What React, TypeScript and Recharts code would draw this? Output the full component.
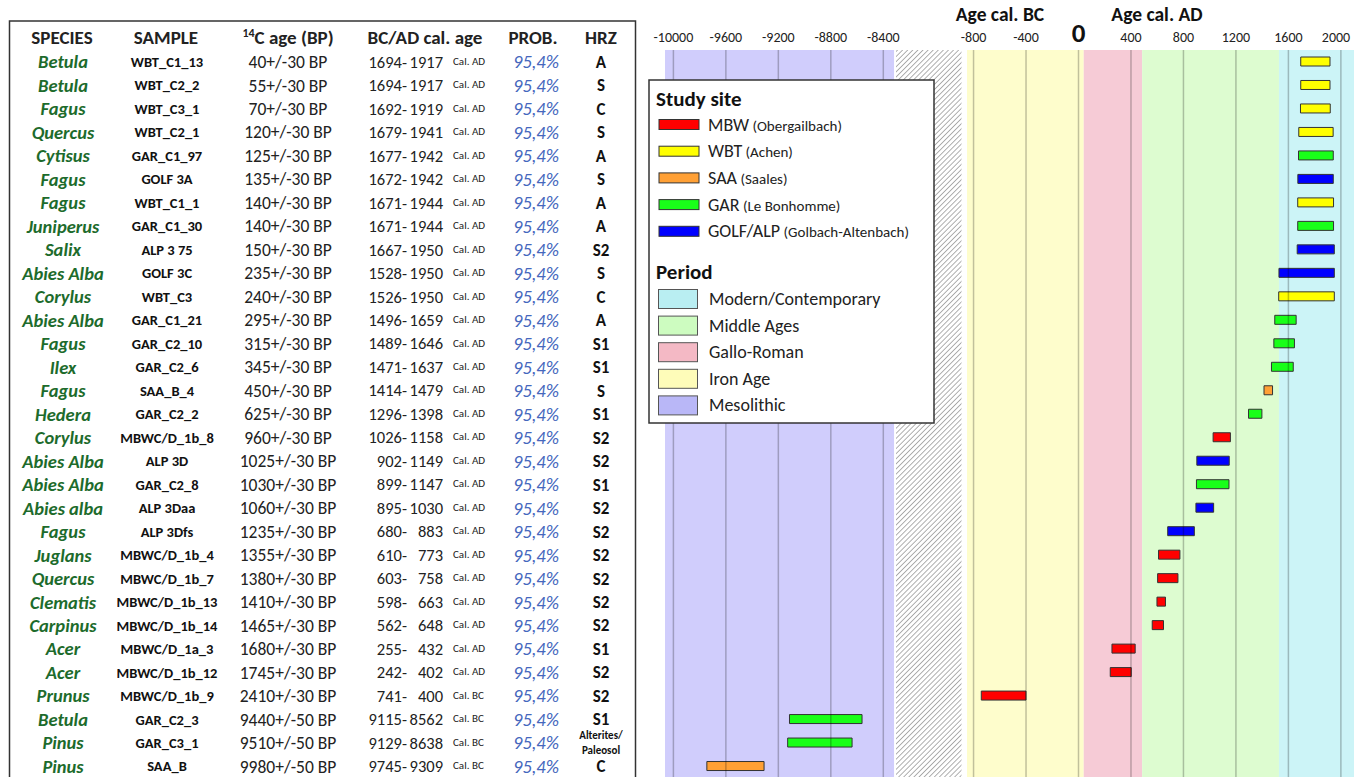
import React from 'react';
import { ComposedChart, Bar, Cell, XAxis, YAxis, ReferenceArea, ReferenceLine } from 'recharts';

const FONT = 'Carlito, Lato, "Open Sans", sans-serif';

// table rows, top to bottom
const species = [
  'Betula', 'Betula', 'Fagus', 'Quercus', 'Cytisus', 'Fagus', 'Fagus', 'Juniperus', 'Salix', 'Abies Alba',
  'Corylus', 'Abies Alba', 'Fagus', 'Ilex', 'Fagus', 'Hedera', 'Corylus', 'Abies Alba', 'Abies Alba', 'Abies alba',
  'Fagus', 'Juglans', 'Quercus', 'Clematis', 'Carpinus', 'Acer', 'Acer', 'Prunus', 'Betula', 'Pinus', 'Pinus',
];
const samples = [
  'WBT_C1_13', 'WBT_C2_2', 'WBT_C3_1', 'WBT_C2_1', 'GAR_C1_97', 'GOLF 3A', 'WBT_C1_1', 'GAR_C1_30', 'ALP 3 75', 'GOLF 3C',
  'WBT_C3', 'GAR_C1_21', 'GAR_C2_10', 'GAR_C2_6', 'SAA_B_4', 'GAR_C2_2', 'MBWC/D_1b_8', 'ALP 3D', 'GAR_C2_8', 'ALP 3Daa',
  'ALP 3Dfs', 'MBWC/D_1b_4', 'MBWC/D_1b_7', 'MBWC/D_1b_13', 'MBWC/D_1b_14', 'MBWC/D_1a_3', 'MBWC/D_1b_12', 'MBWC/D_1b_9',
  'GAR_C2_3', 'GAR_C3_1', 'SAA_B',
];
const c14Ages = [
  '40+/-30 BP', '55+/-30 BP', '70+/-30 BP', '120+/-30 BP', '125+/-30 BP', '135+/-30 BP', '140+/-30 BP', '140+/-30 BP',
  '150+/-30 BP', '235+/-30 BP', '240+/-30 BP', '295+/-30 BP', '315+/-30 BP', '345+/-30 BP', '450+/-30 BP', '625+/-30 BP',
  '960+/-30 BP', '1025+/-30 BP', '1030+/-30 BP', '1060+/-30 BP', '1235+/-30 BP', '1355+/-30 BP', '1380+/-30 BP',
  '1410+/-30 BP', '1465+/-30 BP', '1680+/-30 BP', '1745+/-30 BP', '2410+/-30 BP', '9440+/-50 BP', '9510+/-50 BP',
  '9980+/-50 BP',
];
const calFrom = [
  1694, 1694, 1692, 1679, 1677, 1672, 1671, 1671, 1667, 1528, 1526, 1496, 1489, 1471, 1414, 1296,
  1026, 902, 899, 895, 680, 610, 603, 598, 562, 255, 242, 741, 9115, 9129, 9745,
];
const calTo = [
  1917, 1917, 1919, 1941, 1942, 1942, 1944, 1944, 1950, 1950, 1950, 1659, 1646, 1637, 1479, 1398,
  1158, 1149, 1147, 1030, 883, 773, 758, 663, 648, 432, 402, 400, 8562, 8638, 9309,
];
const calEra = [
  'AD', 'AD', 'AD', 'AD', 'AD', 'AD', 'AD', 'AD', 'AD', 'AD', 'AD', 'AD', 'AD', 'AD', 'AD', 'AD',
  'AD', 'AD', 'AD', 'AD', 'AD', 'AD', 'AD', 'AD', 'AD', 'AD', 'AD', 'BC', 'BC', 'BC', 'BC',
];
const PROB = '95,4%';
const horizons = [
  'A', 'S', 'C', 'S', 'A', 'S', 'A', 'A', 'S2', 'S', 'C', 'A', 'S1', 'S1', 'S', 'S1',
  'S2', 'S2', 'S1', 'S2', 'S2', 'S2', 'S2', 'S2', 'S2', 'S1', 'S2', 'S2', 'S1', 'Alterites/ Paleosol', 'C',
];
const sites = [
  'WBT', 'WBT', 'WBT', 'WBT', 'GAR', 'GOLF', 'WBT', 'GAR', 'ALP', 'GOLF', 'WBT', 'GAR', 'GAR', 'GAR', 'SAA', 'GAR',
  'MBW', 'ALP', 'GAR', 'ALP', 'ALP', 'MBW', 'MBW', 'MBW', 'MBW', 'MBW', 'MBW', 'MBW', 'GAR', 'GAR', 'SAA',
];

// legend
const siteCodes = ['MBW', 'WBT', 'SAA', 'GAR', 'GOLF/ALP'];
const siteNames = ['(Obergailbach)', '(Achen)', '(Saales)', '(Le Bonhomme)', '(Golbach-Altenbach)'];

// periods (years, negative = BC)
const periodNames = ['Mesolithic', 'Iron Age', 'Gallo-Roman', 'Middle Ages', 'Modern/Contemporary'];
const periodFrom = [-10064, -850, 40, 485, 1528];
const periodTo = [-8318, 40, 485, 1528, 2100];

const tickYears = [-10000, -9600, -9200, -8800, -8400, -800, -400, 0, 400, 800, 1200, 1600, 2000];

const siteColor: Record<string, string> = {
  MBW: '#ff0000', WBT: '#ffff00', SAA: '#ffa035', GAR: '#19ff19', GOLF: '#0000ff', ALP: '#0000ff', 'GOLF/ALP': '#0000ff',
};
const bandColor: Record<string, string> = {
  Mesolithic: '#d0cdfc', 'Iron Age': '#fefdcc', 'Gallo-Roman': '#f6cbd6', 'Middle Ages': '#ddfcd0', 'Modern/Contemporary': '#ccf4f7',
};
const swatchColor: Record<string, string> = {
  Mesolithic: '#b9b7f7', 'Iron Age': '#fefcb9', 'Gallo-Roman': '#f4b9c5', 'Middle Ages': '#cdfcc0', 'Modern/Contemporary': '#b9eef2',
};

// broken axis: the early Holocene block is pulled right next to the late one
const GAP_SHIFT = 6912;
const HATCH_FROM = -1391;
const HATCH_TO = -892;
const toAxis = (year: number) => (year < -5000 ? year + GAP_SHIFT : year);
const fromAxis = (v: number) => (v < -1000 ? v - GAP_SHIFT : v);

const rows = samples.map((s, i) => {
  const sign = calEra[i] === 'BC' ? -1 : 1;
  return { sample: s, range: [toAxis(sign * calFrom[i]), toAxis(sign * calTo[i])] };
});

const AgeTick = ({ x, payload }: any) => {
  const v = payload.value;
  if (v === 0) {
    return <text x={x} y={42} textAnchor="middle" fontFamily={FONT} fontSize={27} fontWeight="bold" fill="#111">0</text>;
  }
  // keep the last label inside the page
  const cx = Math.min(x, 1352 - 16);
  return <text x={cx} y={42} textAnchor="middle" fontFamily={FONT} fontSize={14} fill="#222">{fromAxis(v)}</text>;
};

const RowTick = ({ y, payload }: any) => {
  const i = samples.indexOf(payload.value);
  if (i < 0) return null;
  const hz = horizons[i];
  return (
    <g fontFamily={FONT}>
      <text x={63} y={y} dy="0.36em" textAnchor="middle" fontSize={18.5} fontWeight="bold" fontStyle="italic" fill="#1d6b2c">{species[i]}</text>
      <text x={167} y={y} dy="0.36em" textAnchor="middle" fontSize={14.5} fontWeight="bold" fill="#111">{samples[i]}</text>
      <text x={288} y={y} dy="0.36em" textAnchor="middle" fontSize={17.5} fill="#222">{c14Ages[i]}</text>
      <text x={407} y={y} dy="0.36em" textAnchor="end" fontSize={16.5} fill="#222">{calFrom[i]}-</text>
      <text x={443} y={y} dy="0.36em" textAnchor="end" fontSize={16.5} fill="#222">{calTo[i]}</text>
      <text x={453} y={y - 1} dy="0.36em" textAnchor="start" fontSize={11} fill="#222">Cal. {calEra[i]}</text>
      <text x={536} y={y} dy="0.36em" textAnchor="middle" fontSize={18.5} fontStyle="italic" fill="#4567bd">{PROB}</text>
      {hz.includes('/') ? (
        <>
          <text x={601} y={y - 7.5} dy="0.36em" textAnchor="middle" fontSize={11} fontWeight="bold" fill="#111">{hz.split(' ')[0]}</text>
          <text x={601} y={y + 7} dy="0.36em" textAnchor="middle" fontSize={11} fontWeight="bold" fill="#111">{hz.split(' ')[1]}</text>
        </>
      ) : (
        <text x={601} y={y} dy="0.36em" textAnchor="middle" fontSize={17} fontWeight="bold" fill="#111">{hz}</text>
      )}
    </g>
  );
};

export default function App() {
  const periodLegend = [...periodNames].reverse();
  return (
    <div style={{ position: 'fixed', left: 0, top: 0, width: 1354, height: 777, overflow: 'hidden', background: '#fff' }}>
      <ComposedChart
        width={1354}
        height={778}
        layout="vertical"
        data={rows}
        margin={{ top: 0, right: 0, bottom: 0, left: 0 }}
      >
        <defs>
          <pattern id="hatch" width="3.6" height="3.6" patternUnits="userSpaceOnUse" patternTransform="rotate(45)">
            <rect width="3.6" height="3.6" fill="#fff" />
            <line x1="0" y1="0" x2="0" y2="3.6" stroke="#7a7a7a" strokeWidth="1.2" />
          </pattern>
        </defs>
        <XAxis
          type="number"
          orientation="top"
          height={50}
          domain={[-3152, 2100]}
          allowDataOverflow
          ticks={tickYears.map(toAxis)}
          axisLine={false}
          tickLine={false}
          tick={<AgeTick />}
          interval={0}
        />
        <YAxis
          type="category"
          dataKey="sample"
          width={665}
          axisLine={false}
          tickLine={false}
          interval={0}
          tick={<RowTick />}
        />
        {periodNames.map((p, i) => (
          <ReferenceArea
            key={p}
            x1={toAxis(periodFrom[i])}
            x2={toAxis(periodTo[i])}
            fill={bandColor[p]}
            fillOpacity={1}
            stroke="none"
            ifOverflow="hidden"
          />
        ))}
        <ReferenceArea x1={HATCH_FROM} x2={HATCH_TO} fill="url(#hatch)" fillOpacity={1} stroke="none" />
        {tickYears.map((t) => (
          <ReferenceLine key={t} x={toAxis(t)} stroke="#000" strokeOpacity={0.24} strokeWidth={1.5} />
        ))}
        <Bar dataKey="range" barSize={9} stroke="#333" strokeWidth={1} isAnimationActive={false}>
          {rows.map((r, i) => (
            <Cell key={r.sample} fill={siteColor[sites[i]]} />
          ))}
        </Bar>
      </ComposedChart>

      <svg width={1354} height={777} style={{ position: 'absolute', left: 0, top: 0, pointerEvents: 'none' }} fontFamily={FONT}>
        {/* axis titles */}
        <text x={1000} y={21} textAnchor="middle" fontSize={19.5} fontWeight="bold" fill="#111">Age cal. BC</text>
        <text x={1157} y={21} textAnchor="middle" fontSize={19.5} fontWeight="bold" fill="#111">Age cal. AD</text>

        {/* table frame and header */}
        <rect x={9.5} y={21} width={626} height={800} fill="none" stroke="#333" strokeWidth={1.5} />
        <g fontSize={19} fontWeight={600} fill="#222">
          <text x={62} y={44} textAnchor="middle">SPECIES</text>
          <text x={166} y={44} textAnchor="middle">SAMPLE</text>
          <text x={288} y={44} textAnchor="middle">
            <tspan fontSize={12} dy={-7}>14</tspan>
            <tspan dy={7}>C age (BP)</tspan>
          </text>
          <text x={425} y={44} textAnchor="middle">BC/AD cal. age</text>
          <text x={533} y={44} textAnchor="middle">PROB.</text>
          <text x={601} y={44} textAnchor="middle">HRZ</text>
        </g>

        {/* legend */}
        <rect x={649} y={80} width={285} height={343} fill="#fff" stroke="#333" strokeWidth={1.5} />
        <text x={656} y={106} fontSize={21} fontWeight="bold" fill="#111">Study site</text>
        {siteCodes.map((c, i) => {
          const cy = 124.5 + i * 26.7;
          return (
            <g key={c}>
              <rect x={659} y={cy - 5} width={40} height={10} fill={siteColor[c]} stroke="#333" strokeWidth={1} />
              <text x={708} y={cy + 6} fill="#222">
                <tspan fontSize={18}>{c}</tspan>
                <tspan fontSize={15}> {siteNames[i]}</tspan>
              </text>
            </g>
          );
        })}
        <text x={656} y={279} fontSize={21} fontWeight="bold" fill="#111">Period</text>
        {periodLegend.map((p, i) => {
          const cy = 299 + i * 26.6;
          return (
            <g key={p}>
              <rect x={658.5} y={cy - 9.5} width={39} height={19} fill={swatchColor[p]} stroke="#555" strokeWidth={1} />
              <text x={709} y={cy + 6} fontSize={18} fill="#222">{p}</text>
            </g>
          );
        })}
      </svg>
    </div>
  );
}
